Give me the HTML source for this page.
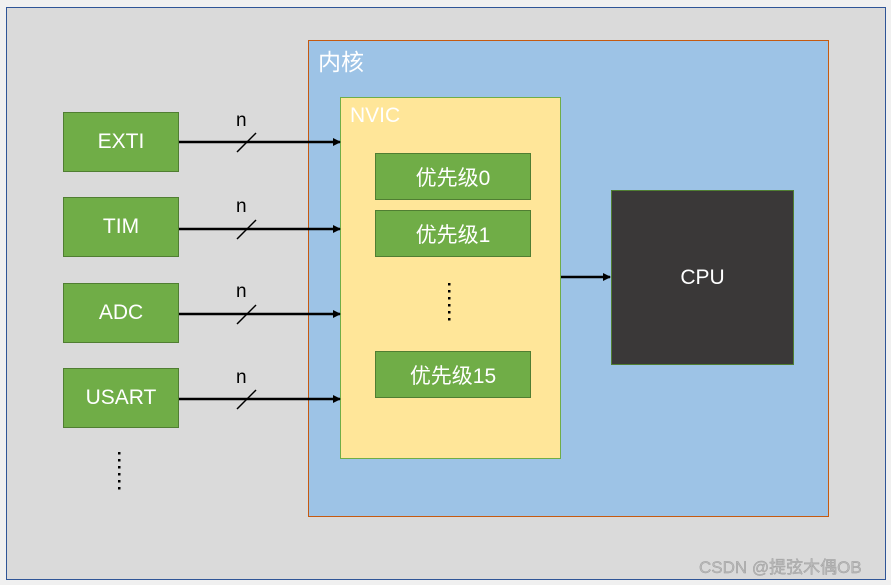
<!DOCTYPE html>
<html><head><meta charset="utf-8"><style>
body{margin:0;width:891px;height:585px;background:#f0f0f0;position:relative;overflow:hidden;font-family:"Liberation Sans","Noto Sans CJK SC",sans-serif}
div{position:absolute;box-sizing:border-box}
.g{background:#70ad47;border:1px solid #507e32;color:#fff;font-size:21px;display:flex;align-items:center;justify-content:center}
</style></head><body>
<div style="left:6px;top:7px;width:880px;height:573px;background:#dadada;border:1px solid #2f5597"></div>
<div style="left:308px;top:40px;width:521px;height:477px;background:#9dc3e6;border:1px solid #c55a11"></div>
<div style="left:318px;top:43px;color:#fff;font-size:23px">内核</div>
<div style="left:340px;top:97px;width:221px;height:362px;background:#ffe699;border:1px solid #70ad47"></div>
<div style="left:350px;top:104px;color:#fff;font-size:21px">NVIC</div>
<div class="g" style="left:375px;top:153px;width:156px;height:47px">优先级0</div>
<div class="g" style="left:375px;top:210px;width:156px;height:47px">优先级1</div>
<div class="g" style="left:375px;top:351px;width:156px;height:47px">优先级15</div>
<div style="left:611px;top:190px;width:183px;height:175px;background:#3a3838;border:1px solid #507e32;color:#fff;font-size:21px;display:flex;align-items:center;justify-content:center">CPU</div>
<div class="g" style="left:63px;top:112px;width:116px;height:60px">EXTI</div>
<div class="g" style="left:63px;top:197px;width:116px;height:60px">TIM</div>
<div class="g" style="left:63px;top:283px;width:116px;height:60px">ADC</div>
<div class="g" style="left:63px;top:368px;width:116px;height:60px">USART</div>
<svg width="891" height="585" style="position:absolute;left:0;top:0">
<defs><marker id="a" markerWidth="8" markerHeight="8" refX="7" refY="4" orient="auto" markerUnits="userSpaceOnUse"><path d="M0,0L8,4L0,8z" fill="#000"/></marker></defs>
<g stroke="#000" stroke-width="2.5" marker-end="url(#a)">
<line x1="179" y1="142" x2="340" y2="142"/><line x1="179" y1="229" x2="340" y2="229"/>
<line x1="179" y1="314" x2="340" y2="314"/><line x1="179" y1="399" x2="340" y2="399"/>
<line x1="561" y1="277" x2="610" y2="277"/></g>
<g stroke="#000" stroke-width="1.5">
<line x1="237" y1="152" x2="256" y2="133"/><line x1="237" y1="239" x2="256" y2="220"/>
<line x1="237" y1="324" x2="256" y2="305"/><line x1="237" y1="409" x2="256" y2="390"/></g>
<g font-size="19" font-family="Liberation Sans,sans-serif"><text x="236" y="126">n</text><text x="236" y="212">n</text><text x="236" y="297">n</text><text x="236" y="383">n</text></g>
<g fill="#000"><rect x="448" y="283" width="2.5" height="2.5"/><rect x="448" y="290" width="2.5" height="2.5"/><rect x="448" y="297" width="2.5" height="2.5"/><rect x="448" y="304" width="2.5" height="2.5"/><rect x="448" y="311" width="2.5" height="2.5"/><rect x="448" y="318" width="2.5" height="2.5"/>
<rect x="118" y="452" width="2.5" height="2.5"/><rect x="118" y="459" width="2.5" height="2.5"/><rect x="118" y="466" width="2.5" height="2.5"/><rect x="118" y="473" width="2.5" height="2.5"/><rect x="118" y="480" width="2.5" height="2.5"/><rect x="118" y="487" width="2.5" height="2.5"/></g>
<text x="699" y="573" font-size="17" fill="#bbb" stroke="#999" stroke-width="0.4" font-family="Liberation Sans,Noto Sans CJK SC,sans-serif">CSDN @提弦木偶OB</text>
</svg>
</body></html>
